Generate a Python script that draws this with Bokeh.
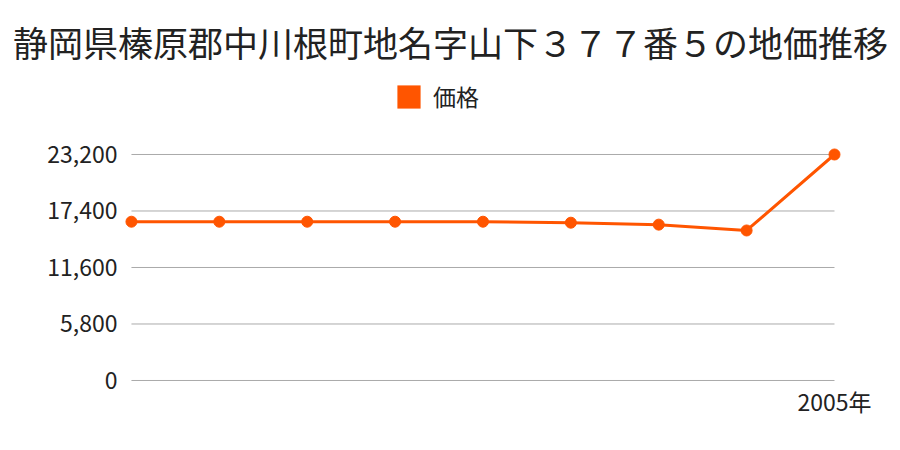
from bokeh.plotting import figure
from bokeh.models import (FixedTicker, NumeralTickFormatter, Range1d, Label,
                          Legend, LegendItem)
from bokeh.embed import file_html
from bokeh.resources import INLINE

title_text = "静岡県榛原郡中川根町地名字山下３７７番５の地価推移"
series_name = "価格"
years = [1997, 1998, 1999, 2000, 2001, 2002, 2003, 2004, 2005]
prices = [16300, 16300, 16300, 16300, 16300, 16200, 16000, 15400, 23200]
y_ticks = [0, 5800, 11600, 17400, 23200]
x_ticks = [2005]
x_tick_labels = {2005: "2005年"}

FONT = "Noto Sans CJK JP"
ORANGE = "#ff5500"
TEXT = "#222222"

# The frame covers the whole canvas, so the title and legend can sit inside it;
# both axes are pinned inside the frame (y at the first year, x at zero).
p = figure(width=892, height=442, output_backend="svg", toolbar_location=None,
           x_range=Range1d(years[0] - 1.49, years[-1] + 0.66),
           y_range=Range1d(-6365, 39009),
           min_border_left=0, min_border_right=0,
           min_border_top=0, min_border_bottom=0)
p.outline_line_color = None
p.xgrid.visible = False
p.ygrid.visible = False

# grid lines spanning only the data extent
p.segment(x0=[years[0]] * len(y_ticks), x1=[years[-1]] * len(y_ticks),
          y0=y_ticks, y1=y_ticks, line_color="#aaaaaa", line_width=1)

p.line(years, prices, line_color=ORANGE, line_width=3)
p.scatter(years, prices, size=11, fill_color=ORANGE, line_color=ORANGE)

p.yaxis.fixed_location = years[0]
p.xaxis.fixed_location = y_ticks[0]
p.yaxis.ticker = FixedTicker(ticks=y_ticks)
p.yaxis.formatter = NumeralTickFormatter(format="0,0")
p.xaxis.ticker = FixedTicker(ticks=x_ticks)
p.xaxis.major_label_overrides = x_tick_labels
for ax in (p.xaxis, p.yaxis):
    ax.axis_line_color = None
    ax.major_tick_line_color = None
    ax.minor_tick_line_color = None
    ax.major_tick_out = 0
    ax.major_tick_in = 0
    ax.major_label_text_font = FONT
    ax.major_label_text_font_size = "23px"
    ax.major_label_text_color = TEXT
p.yaxis.major_label_standoff = 14
p.xaxis.major_label_standoff = 4

# title
p.add_layout(Label(x=450, y=401, x_units="screen", y_units="screen",
                   text=title_text, text_font=FONT, text_font_size="35px",
                   text_color=TEXT, text_align="center", text_baseline="middle"))

# legend (swatch renderer is hidden; only its legend entry shows)
swatch = p.quad(left=years, right=years, top=prices, bottom=prices,
                fill_color=ORANGE, line_color=None, visible=False)
legend = Legend(items=[LegendItem(label=series_name, renderers=[swatch])],
                location=(394, 329), orientation="horizontal",
                padding=0, margin=0, border_line_color=None,
                background_fill_alpha=0, glyph_width=29, glyph_height=29,
                label_height=29, label_standoff=10,
                label_text_font=FONT, label_text_font_size="23px",
                label_text_color=TEXT, label_text_baseline="middle")
p.add_layout(legend, "center")

open("out.html", "w").write(file_html(p, INLINE))
